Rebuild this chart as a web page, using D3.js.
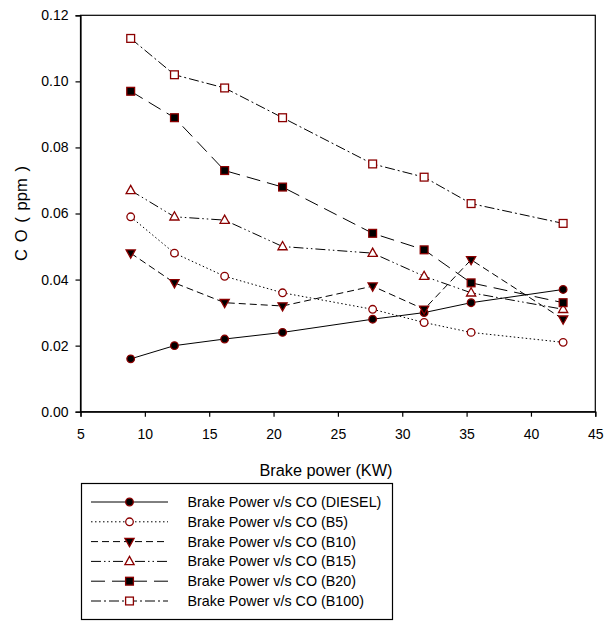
<!DOCTYPE html>
<html>
<head>
<meta charset="utf-8">
<script src="https://cdn.jsdelivr.net/npm/d3@7"></script>
<style>
  body { margin: 0; background: #fff; }
  svg { display: block; font-family: "Liberation Sans", Arial, sans-serif; }
</style>
</head>
<body>
<svg id="chart" width="606" height="622"></svg>
<script>
// Brake power (kW) at each load step
const brakePower = [8.9, 12.3, 16.2, 20.7, 27.7, 31.7, 35.35, 42.5];

// CO emissions (ppm) for each fuel blend
const coDiesel = [0.016, 0.020, 0.022, 0.024, 0.028, 0.030, 0.033, 0.037];
const coB5     = [0.059, 0.048, 0.041, 0.036, 0.031, 0.027, 0.024, 0.021];
const coB10    = [0.048, 0.039, 0.033, 0.032, 0.038, 0.031, 0.046, 0.028];
const coB15    = [0.067, 0.059, 0.058, 0.050, 0.048, 0.041, 0.036, 0.031];
const coB20    = [0.097, 0.089, 0.073, 0.068, 0.054, 0.049, 0.039, 0.033];
const coB100   = [0.113, 0.102, 0.098, 0.089, 0.075, 0.071, 0.063, 0.057];

const seriesNames = ["Brake Power v/s CO (DIESEL)", "Brake Power v/s CO (B5)", "Brake Power v/s CO (B10)",
                     "Brake Power v/s CO (B15)", "Brake Power v/s CO (B20)", "Brake Power v/s CO (B100)"];

const xTicks = [5, 10, 15, 20, 25, 30, 35, 40, 45];
const yTicks = [0, 0.02, 0.04, 0.06, 0.08, 0.10, 0.12];

// Line and marker styling per series
const styles = [
  { dash: null,                 symbol: "circle",   fill: "#000" },
  { dash: "1.5,2.5",            symbol: "circle",   fill: "#fff" },
  { dash: "7,4",                symbol: "triDown",  fill: "#000" },
  { dash: "10,3,1.5,3,1.5,3",   symbol: "triUp",    fill: "#fff" },
  { dash: "14,7",               symbol: "square",   fill: "#000" },
  { dash: "10,3,2,3",           symbol: "square",   fill: "#fff" }
];
const seriesValues = [coDiesel, coB5, coB10, coB15, coB20, coB100];
const series = seriesValues.map((vals, i) => ({
  name: seriesNames[i],
  style: styles[i],
  points: vals.map((v, j) => ({ x: brakePower[j], y: v }))
}));

const markerStroke = "#8b0000";
const svg = d3.select("#chart");

const plotLeft = 80.5, plotRight = 595.3, plotTop = 15.3, plotBottom = 411.7;
const x = d3.scaleLinear().domain([5, 45]).range([plotLeft, plotRight]);
const y = d3.scaleLinear().domain([0, 0.12]).range([plotBottom, plotTop]);

// Frame
svg.append("rect")
  .attr("x", plotLeft).attr("y", plotTop)
  .attr("width", plotRight - plotLeft).attr("height", plotBottom - plotTop)
  .attr("fill", "none").attr("stroke", "#000").attr("stroke-width", 1.2);

// Axes
const xAxis = d3.axisBottom(x).tickValues(xTicks).tickSize(5).tickFormat(d3.format("d"));
const yAxis = d3.axisLeft(y).tickValues(yTicks).tickSize(5).tickPadding(7).tickFormat(d3.format(".2f"));

const gx = svg.append("g").attr("transform", `translate(0,${plotBottom})`).call(xAxis);
const gy = svg.append("g").attr("transform", `translate(${plotLeft},0)`).call(yAxis);
[gx, gy].forEach(g => {
  g.select(".domain").attr("stroke", "#000").attr("stroke-width", 1.2);
  g.selectAll(".tick line").attr("stroke", "#000").attr("stroke-width", 1.2);
  g.selectAll(".tick text").attr("fill", "#000").style("font-size", "14px")
    .style("font-family", "'Liberation Sans', Arial, sans-serif");
});
gx.selectAll(".tick text").attr("y", 27.8).attr("dy", 0);

// Axis titles
svg.append("text")
  .attr("x", 326).attr("y", 476)
  .attr("text-anchor", "middle").style("font-size", "16.3px").text("Brake power (KW)");
svg.append("text")
  .attr("transform", `translate(27,213.5) rotate(-90)`)
  .attr("text-anchor", "middle").style("font-size", "16.5px").style("word-spacing", "2.2px")
  .text("C O ( ppm )");

// Marker drawing helper
function marker(g, sym, fill) {
  if (sym === "circle") {
    g.append("circle").attr("r", 3.8);
  } else if (sym === "square") {
    g.append("rect").attr("x", -3.9).attr("y", -3.9).attr("width", 7.8).attr("height", 7.8);
  } else if (sym === "triUp") {
    g.append("path").attr("d", "M0,-5L4.6,3.2L-4.6,3.2Z");
  } else {
    g.append("path").attr("d", "M0,5L4.6,-3.2L-4.6,-3.2Z");
  }
  g.selectAll("*").attr("fill", fill).attr("stroke", markerStroke).attr("stroke-width", 1.3);
}

const line = d3.line().x(d => x(d.x)).y(d => y(d.y));

// Series lines and markers
series.forEach(s => {
  svg.append("path")
    .datum(s.points)
    .attr("d", line)
    .attr("fill", "none")
    .attr("stroke", "#000")
    .attr("stroke-width", 1)
    .attr("stroke-dasharray", s.style.dash);
  svg.append("g").selectAll("g")
    .data(s.points).join("g")
    .attr("transform", d => `translate(${x(d.x)},${y(d.y)})`)
    .each(function () { marker(d3.select(this), s.style.symbol, s.style.fill); });
});

// Legend
const lg = svg.append("g");
lg.append("rect")
  .attr("x", 81.5).attr("y", 483.5).attr("width", 311).attr("height", 136)
  .attr("fill", "#fff").attr("stroke", "#000").attr("stroke-width", 1.2);
series.forEach((s, i) => {
  const cy = 502 + i * 19.8;
  lg.append("line")
    .attr("x1", 91).attr("x2", 168).attr("y1", cy).attr("y2", cy)
    .attr("stroke", "#000").attr("stroke-width", 1)
    .attr("stroke-dasharray", s.style.dash);
  const mg = lg.append("g").attr("transform", `translate(129.5,${cy})`);
  marker(mg, s.style.symbol, s.style.fill);
  lg.append("text")
    .attr("x", 187.5).attr("y", cy).attr("dy", "0.35em")
    .style("font-size", "14.3px").text(s.name);
});
</script>
</body>
</html>
